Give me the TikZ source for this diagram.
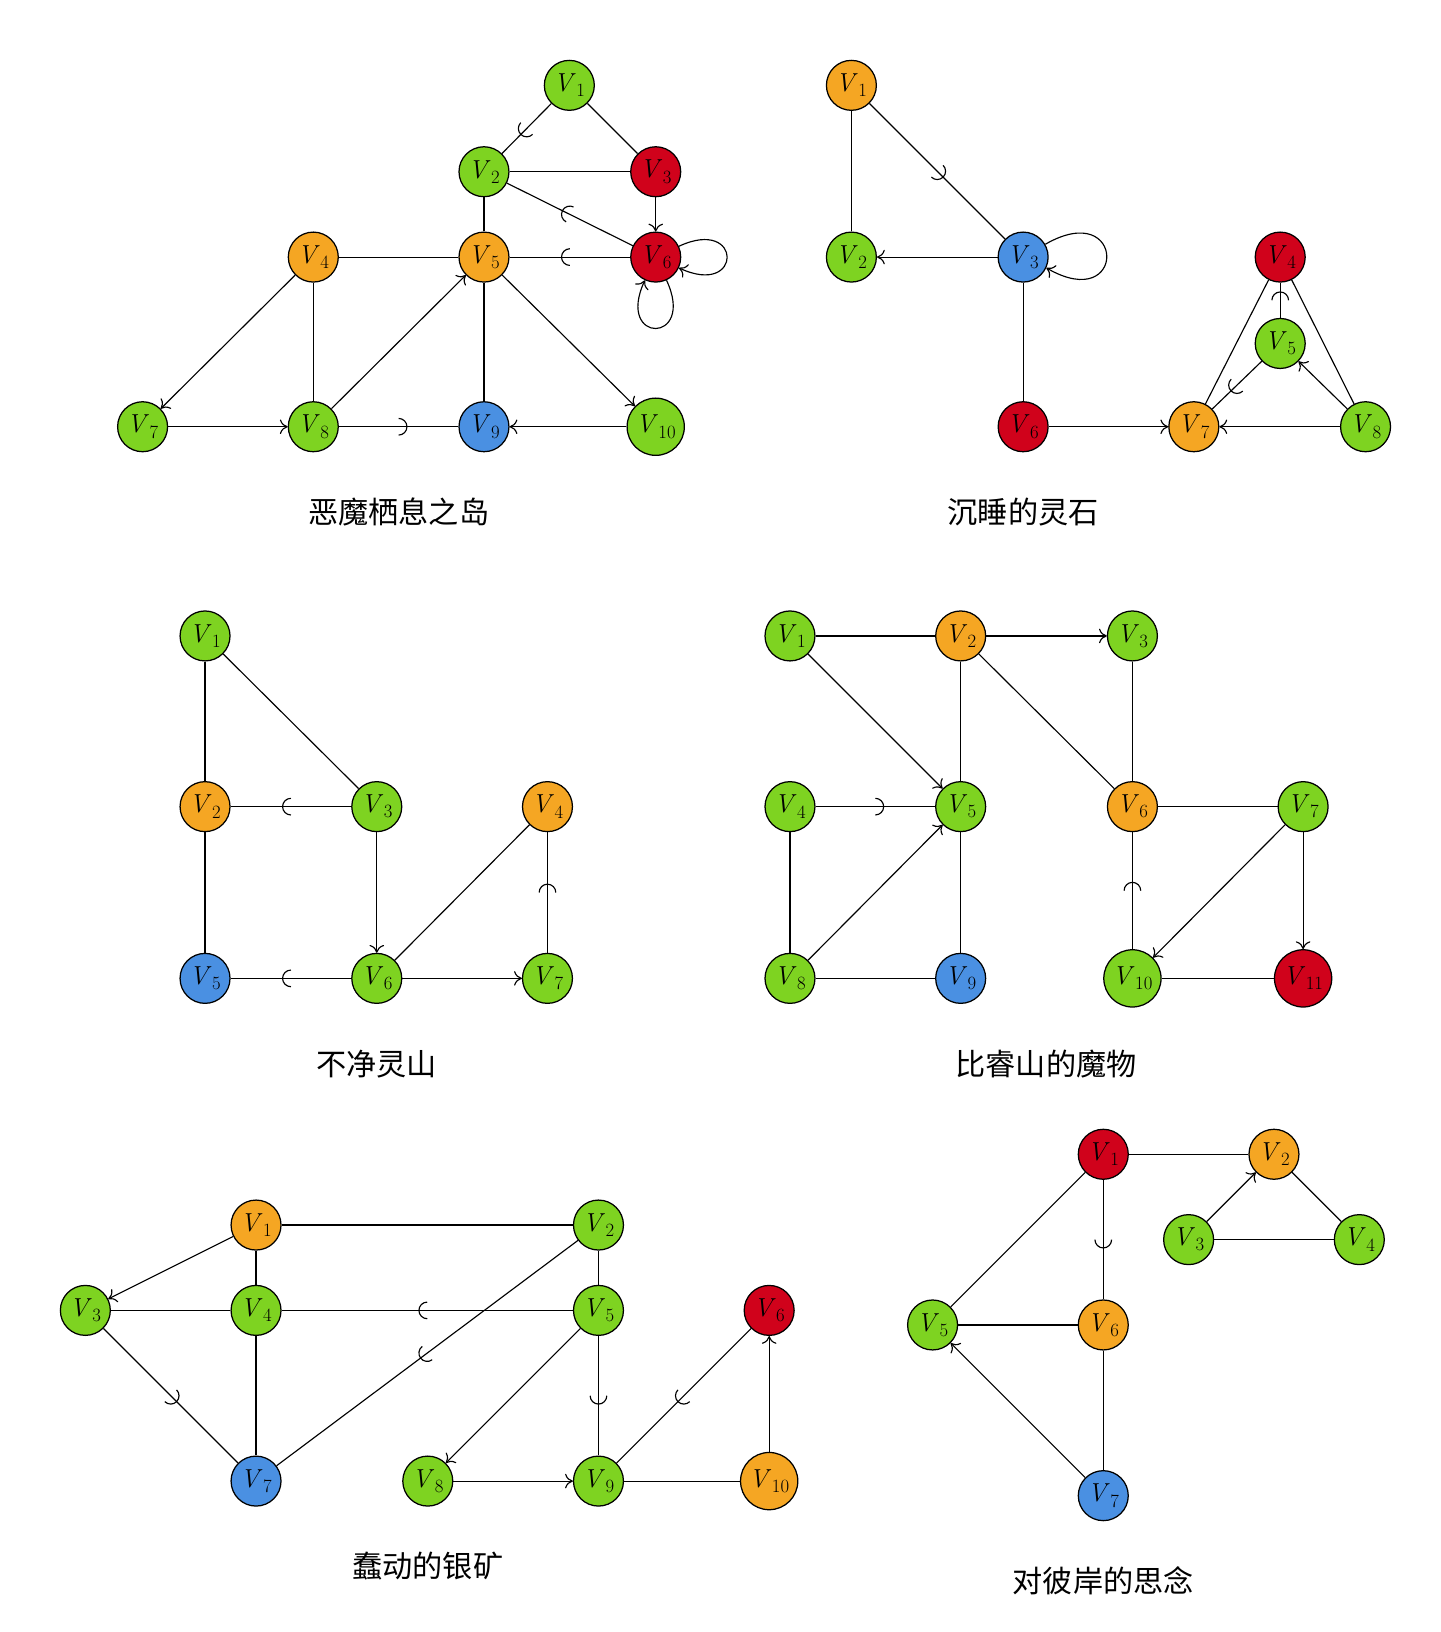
\documentclass[tikz,border=0pt]{standalone}
\usepackage{fontspec}
\newfontfamily\cjk{Noto Sans CJK SC}
\usetikzlibrary{arrows.meta,decorations.markings}
\definecolor{cg}{HTML}{7ED321}
\definecolor{co}{HTML}{F5A623}
\definecolor{cr}{HTML}{D0021B}
\definecolor{cb}{HTML}{4A90E2}
\newcommand\vlab[1]{\textit{V}\kern0.5pt\raisebox{-5pt}{\fontsize{18pt}{18pt}\selectfont #1}}
\tikzset{
  vtx/.style={circle,draw=black,line width=1.2pt,minimum size=48pt,inner sep=0pt,
    font=\fontsize{25pt}{26pt}\selectfont},
  gn/.style={vtx,fill=cg}, on/.style={vtx,fill=co}, rn/.style={vtx,fill=cr}, bn/.style={vtx,fill=cb},
  big/.style={minimum size=55pt},
  edge/.style={line width=1.1pt},
  arr/.style={edge,-{To[length=7.5pt,width=14pt,line width=1.1pt]}},
  hka/.style={edge,postaction={decorate,decoration={markings,mark=at position 0.5 with
    {\draw[line width=1.1pt] (0,8pt) arc[start angle=90,end angle=270,radius=8pt];}}}},
  hkb/.style={edge,postaction={decorate,decoration={markings,mark=at position 0.5 with
    {\draw[line width=1.1pt] (0,-8pt) arc[start angle=-90,end angle=90,radius=8pt];}}}},
  ttl/.style={font=\cjk\fontsize{29pt}{34pt}\selectfont}
}
\begin{document}
\begin{tikzpicture}[x=1pt,y=-1pt]
\useasboundingbox[fill=white] (0,0) rectangle (1384,1568);
% ---------- Graph 1
\node[gn] (a1) at (547,82) {\vlab{1}};
\node[gn] (a2) at (465,165) {\vlab{2}};
\node[rn] (a3) at (630,165) {\vlab{3}};
\node[on] (a4) at (301,247) {\vlab{4}};
\node[on] (a5) at (465,247) {\vlab{5}};
\node[rn] (a6) at (630,247) {\vlab{6}};
\node[gn] (a7) at (137,410) {\vlab{7}};
\node[gn] (a8) at (301,410) {\vlab{8}};
\node[bn] (a9) at (465,410) {\vlab{9}};
\node[gn,big] (a10) at (630,410) {\vlab{10}};
\node[ttl] (t1) at (383,492) {恶魔栖息之岛};
\draw[hkb] (a1) -- (a2);
\draw[edge] (a1) -- (a3);
\draw[edge] (a2) -- (a3);
\draw[hka] (a2) -- (a6);
\draw[arr] (a3) -- (a6);
\draw[edge] (a2) -- (a5);
\draw[edge] (a4) -- (a5);
\draw[hka] (a5) -- (a6);
\draw[arr] (a4) -- (a7);
\draw[edge] (a4) -- (a8);
\draw[arr] (a8) -- (a5);
\draw[edge] (a5) -- (a9);
\draw[arr] (a5) -- (a10);
\draw[arr] (a7) -- (a8);
\draw[hkb] (a8) -- (a9);
\draw[arr] (a10) -- (a9);
\draw[arr] (a6.25) .. controls +(25:68pt) and +(-25:68pt) .. (a6.-25);
\draw[arr] (a6.-65) .. controls +(-65:68pt) and +(-115:68pt) .. (a6.-115);
% ---------- Graph 2
\node[on] (b1) at (818,82) {\vlab{1}};
\node[gn] (b2) at (818,247) {\vlab{2}};
\node[bn] (b3) at (983,247) {\vlab{3}};
\node[rn] (b4) at (1230,247) {\vlab{4}};
\node[gn] (b5) at (1230,330) {\vlab{5}};
\node[rn] (b6) at (983,410) {\vlab{6}};
\node[on] (b7) at (1147,410) {\vlab{7}};
\node[gn] (b8) at (1312,410) {\vlab{8}};
\node[ttl] (t2) at (983,492) {沉睡的灵石};
\draw[edge] (b1) -- (b2);
\draw[hkb] (b1) -- (b3);
\draw[arr] (b3) -- (b2);
\draw[edge] (b3) -- (b6);
\draw[arr] (b6) -- (b7);
\draw[arr] (b8) -- (b7);
\draw[arr] (b8) -- (b5);
\draw[hka] (b7) -- (b5);
\draw[hkb] (b5) -- (b4);
\draw[edge] (b4) -- (b7);
\draw[edge] (b4) -- (b8);
\draw[arr] (b3.30) .. controls +(30:90pt) and +(-30:90pt) .. (b3.-25);
% ---------- Graph 3
\node[gn] (c1) at (197,611) {\vlab{1}};
\node[on] (c2) at (197,775) {\vlab{2}};
\node[gn] (c3) at (362,775) {\vlab{3}};
\node[on] (c4) at (526,775) {\vlab{4}};
\node[bn] (c5) at (197,940) {\vlab{5}};
\node[gn] (c6) at (362,940) {\vlab{6}};
\node[gn] (c7) at (526,940) {\vlab{7}};
\node[ttl] (t3) at (362,1022) {不净灵山};
\draw[edge] (c1) -- (c2);
\draw[edge] (c1) -- (c3);
\draw[hka] (c2) -- (c3);
\draw[edge] (c2) -- (c5);
\draw[arr] (c3) -- (c6);
\draw[hka] (c5) -- (c6);
\draw[arr] (c6) -- (c7);
\draw[edge] (c6) -- (c4);
\draw[hkb] (c7) -- (c4);
% ---------- Graph 4
\node[gn] (d1) at (759,611) {\vlab{1}};
\node[on] (d2) at (923,611) {\vlab{2}};
\node[gn] (d3) at (1088,611) {\vlab{3}};
\node[gn] (d4) at (759,775) {\vlab{4}};
\node[gn] (d5) at (923,775) {\vlab{5}};
\node[on] (d6) at (1088,775) {\vlab{6}};
\node[gn] (d7) at (1252,775) {\vlab{7}};
\node[gn] (d8) at (759,940) {\vlab{8}};
\node[bn] (d9) at (923,940) {\vlab{9}};
\node[gn,big] (d10) at (1088,940) {\vlab{10}};
\node[rn,big] (d11) at (1252,940) {\vlab{11}};
\node[ttl] (t4) at (1005,1022) {比睿山的魔物};
\draw[edge] (d1) -- (d2);
\draw[arr] (d2) -- (d3);
\draw[arr] (d1) -- (d5);
\draw[edge] (d2) -- (d5);
\draw[edge] (d2) -- (d6);
\draw[edge] (d3) -- (d6);
\draw[hkb] (d4) -- (d5);
\draw[edge] (d4) -- (d8);
\draw[arr] (d8) -- (d5);
\draw[edge] (d5) -- (d9);
\draw[edge] (d8) -- (d9);
\draw[edge] (d6) -- (d7);
\draw[hka] (d6) -- (d10);
\draw[arr] (d7) -- (d10);
\draw[arr] (d7) -- (d11);
\draw[edge] (d10) -- (d11);
% ---------- Graph 5
\node[on] (e1) at (246,1177) {\vlab{1}};
\node[gn] (e2) at (575,1177) {\vlab{2}};
\node[gn] (e3) at (82,1259) {\vlab{3}};
\node[gn] (e4) at (246,1259) {\vlab{4}};
\node[gn] (e5) at (575,1259) {\vlab{5}};
\node[rn] (e6) at (739,1259) {\vlab{6}};
\node[bn] (e7) at (246,1423) {\vlab{7}};
\node[gn] (e8) at (411,1423) {\vlab{8}};
\node[gn] (e9) at (575,1423) {\vlab{9}};
\node[on,big] (e10) at (739,1423) {\vlab{10}};
\node[ttl] (t5) at (411,1505) {蠢动的银矿};
\draw[edge] (e1) -- (e2);
\draw[arr] (e1) -- (e3);
\draw[edge] (e1) -- (e4);
\draw[edge] (e3) -- (e4);
\draw[edge] (e2) -- (e5);
\draw[hka] (e4) -- (e5);
\draw[hka] (e7) -- (e2);
\draw[hkb] (e3) -- (e7);
\draw[edge] (e4) -- (e7);
\draw[arr] (e5) -- (e8);
\draw[hkb] (e5) -- (e9);
\draw[arr] (e8) -- (e9);
\draw[hka] (e9) -- (e6);
\draw[edge] (e9) -- (e10);
\draw[arr] (e10) -- (e6);
% ---------- Graph 6
\node[rn] (f1) at (1060,1109) {\vlab{1}};
\node[on] (f2) at (1224,1109) {\vlab{2}};
\node[gn] (f3) at (1142,1191) {\vlab{3}};
\node[gn] (f4) at (1306,1191) {\vlab{4}};
\node[gn] (f5) at (896,1273) {\vlab{5}};
\node[on] (f6) at (1060,1273) {\vlab{6}};
\node[bn] (f7) at (1060,1437) {\vlab{7}};
\node[ttl] (t6) at (1060,1519) {对彼岸的思念};
\draw[edge] (f1) -- (f2);
\draw[edge] (f1) -- (f5);
\draw[hkb] (f1) -- (f6);
\draw[arr] (f3) -- (f2);
\draw[edge] (f2) -- (f4);
\draw[edge] (f3) -- (f4);
\draw[edge] (f5) -- (f6);
\draw[edge] (f6) -- (f7);
\draw[arr] (f7) -- (f5);
\end{tikzpicture}
\end{document}
